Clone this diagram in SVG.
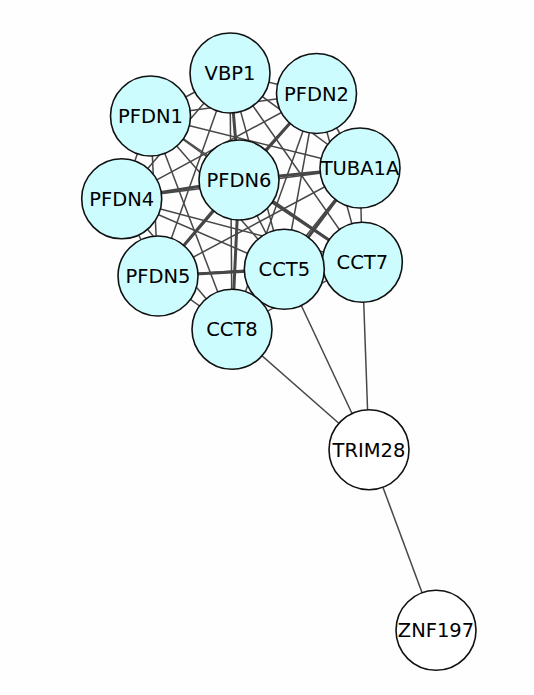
<svg xmlns="http://www.w3.org/2000/svg" width="534" height="695" viewBox="0 0 534 695">
<style>
.e{stroke:#474747;stroke-width:1.5;fill:none}
.t{stroke-width:3}
.n circle{fill:#ccfcfe;stroke:#111;stroke-width:1.6}
.w circle{fill:#fff;stroke:#111;stroke-width:1.6}
text{font-family:"DejaVu Sans","Liberation Sans",sans-serif;font-size:19.5px;fill:#000;text-anchor:middle}
</style>
<rect width="534" height="695" fill="#fefefe"/>
<g id="edges">
<line class="e" x1="230" y1="73" x2="316.5" y2="93.5"/>
<line class="e" x1="230" y1="73" x2="150.5" y2="116"/>
<line class="e" x1="230" y1="73" x2="360" y2="168"/>
<line class="e t" x1="230" y1="73" x2="239" y2="180"/>
<line class="e" x1="230" y1="73" x2="121.7" y2="198.8"/>
<line class="e" x1="230" y1="73" x2="362.3" y2="262.3"/>
<line class="e" x1="230" y1="73" x2="284.3" y2="269.3"/>
<line class="e" x1="230" y1="73" x2="158" y2="276"/>
<line class="e" x1="230" y1="73" x2="232" y2="329.3"/>
<line class="e" x1="316.5" y1="93.5" x2="150.5" y2="116"/>
<line class="e" x1="316.5" y1="93.5" x2="360" y2="168"/>
<line class="e t" x1="316.5" y1="93.5" x2="239" y2="180"/>
<line class="e" x1="316.5" y1="93.5" x2="121.7" y2="198.8"/>
<line class="e" x1="316.5" y1="93.5" x2="362.3" y2="262.3"/>
<line class="e" x1="316.5" y1="93.5" x2="284.3" y2="269.3"/>
<line class="e" x1="316.5" y1="93.5" x2="158" y2="276"/>
<line class="e" x1="316.5" y1="93.5" x2="232" y2="329.3"/>
<line class="e" x1="150.5" y1="116" x2="360" y2="168"/>
<line class="e" x1="150.5" y1="116" x2="239" y2="180"/>
<line class="e" x1="150.5" y1="116" x2="121.7" y2="198.8"/>
<line class="e" x1="150.5" y1="116" x2="362.3" y2="262.3"/>
<line class="e" x1="150.5" y1="116" x2="284.3" y2="269.3"/>
<line class="e" x1="150.5" y1="116" x2="158" y2="276"/>
<line class="e" x1="150.5" y1="116" x2="232" y2="329.3"/>
<line class="e t" x1="360" y1="168" x2="239" y2="180"/>
<line class="e" x1="360" y1="168" x2="121.7" y2="198.8"/>
<line class="e" x1="360" y1="168" x2="362.3" y2="262.3"/>
<line class="e t" x1="360" y1="168" x2="284.3" y2="269.3"/>
<line class="e" x1="360" y1="168" x2="158" y2="276"/>
<line class="e" x1="360" y1="168" x2="232" y2="329.3"/>
<line class="e t" x1="239" y1="180" x2="121.7" y2="198.8"/>
<line class="e t" x1="239" y1="180" x2="362.3" y2="262.3"/>
<line class="e" x1="239" y1="180" x2="284.3" y2="269.3"/>
<line class="e t" x1="239" y1="180" x2="158" y2="276"/>
<line class="e t" x1="239" y1="180" x2="232" y2="329.3"/>
<line class="e" x1="121.7" y1="198.8" x2="362.3" y2="262.3"/>
<line class="e" x1="121.7" y1="198.8" x2="284.3" y2="269.3"/>
<line class="e" x1="121.7" y1="198.8" x2="158" y2="276"/>
<line class="e" x1="121.7" y1="198.8" x2="232" y2="329.3"/>
<line class="e" x1="362.3" y1="262.3" x2="284.3" y2="269.3"/>
<line class="e" x1="362.3" y1="262.3" x2="158" y2="276"/>
<line class="e" x1="362.3" y1="262.3" x2="232" y2="329.3"/>
<line class="e t" x1="284.3" y1="269.3" x2="158" y2="276"/>
<line class="e" x1="284.3" y1="269.3" x2="232" y2="329.3"/>
<line class="e" x1="158" y1="276" x2="232" y2="329.3"/>
<line class="e" x1="232" y1="329.3" x2="369" y2="449.7"/>
<line class="e" x1="284.3" y1="269.3" x2="369" y2="449.7"/>
<line class="e" x1="362.3" y1="262.3" x2="369" y2="449.7"/>
<line class="e" x1="369" y1="449.7" x2="436" y2="630.3"/>
</g>
<g id="VBP1" class="n"><circle cx="230" cy="73" r="40"/><text x="230" y="80">VBP1</text></g>
<g id="PFDN2" class="n"><circle cx="316.5" cy="93.5" r="40"/><text x="316.5" y="100.5">PFDN2</text></g>
<g id="PFDN1" class="n"><circle cx="150.5" cy="116" r="40"/><text x="150.5" y="123">PFDN1</text></g>
<g id="TUBA1A" class="n"><circle cx="360" cy="168" r="40"/><text x="360" y="175">TUBA1A</text></g>
<g id="PFDN6" class="n"><circle cx="239" cy="180" r="40"/><text x="239" y="187">PFDN6</text></g>
<g id="PFDN4" class="n"><circle cx="121.7" cy="198.8" r="40"/><text x="121.7" y="205.8">PFDN4</text></g>
<g id="CCT7" class="n"><circle cx="362.3" cy="262.3" r="40"/><text x="362.3" y="269.3">CCT7</text></g>
<g id="CCT5" class="n"><circle cx="284.3" cy="269.3" r="40"/><text x="284.3" y="276.3">CCT5</text></g>
<g id="PFDN5" class="n"><circle cx="158" cy="276" r="40"/><text x="158" y="283">PFDN5</text></g>
<g id="CCT8" class="n"><circle cx="232" cy="329.3" r="40"/><text x="232" y="336.3">CCT8</text></g>
<g id="TRIM28" class="w"><circle cx="369" cy="449.7" r="40"/><text x="369" y="456.7">TRIM28</text></g>
<g id="ZNF197" class="w"><circle cx="436" cy="630.3" r="40"/><text x="436" y="637.3">ZNF197</text></g>
</svg>
